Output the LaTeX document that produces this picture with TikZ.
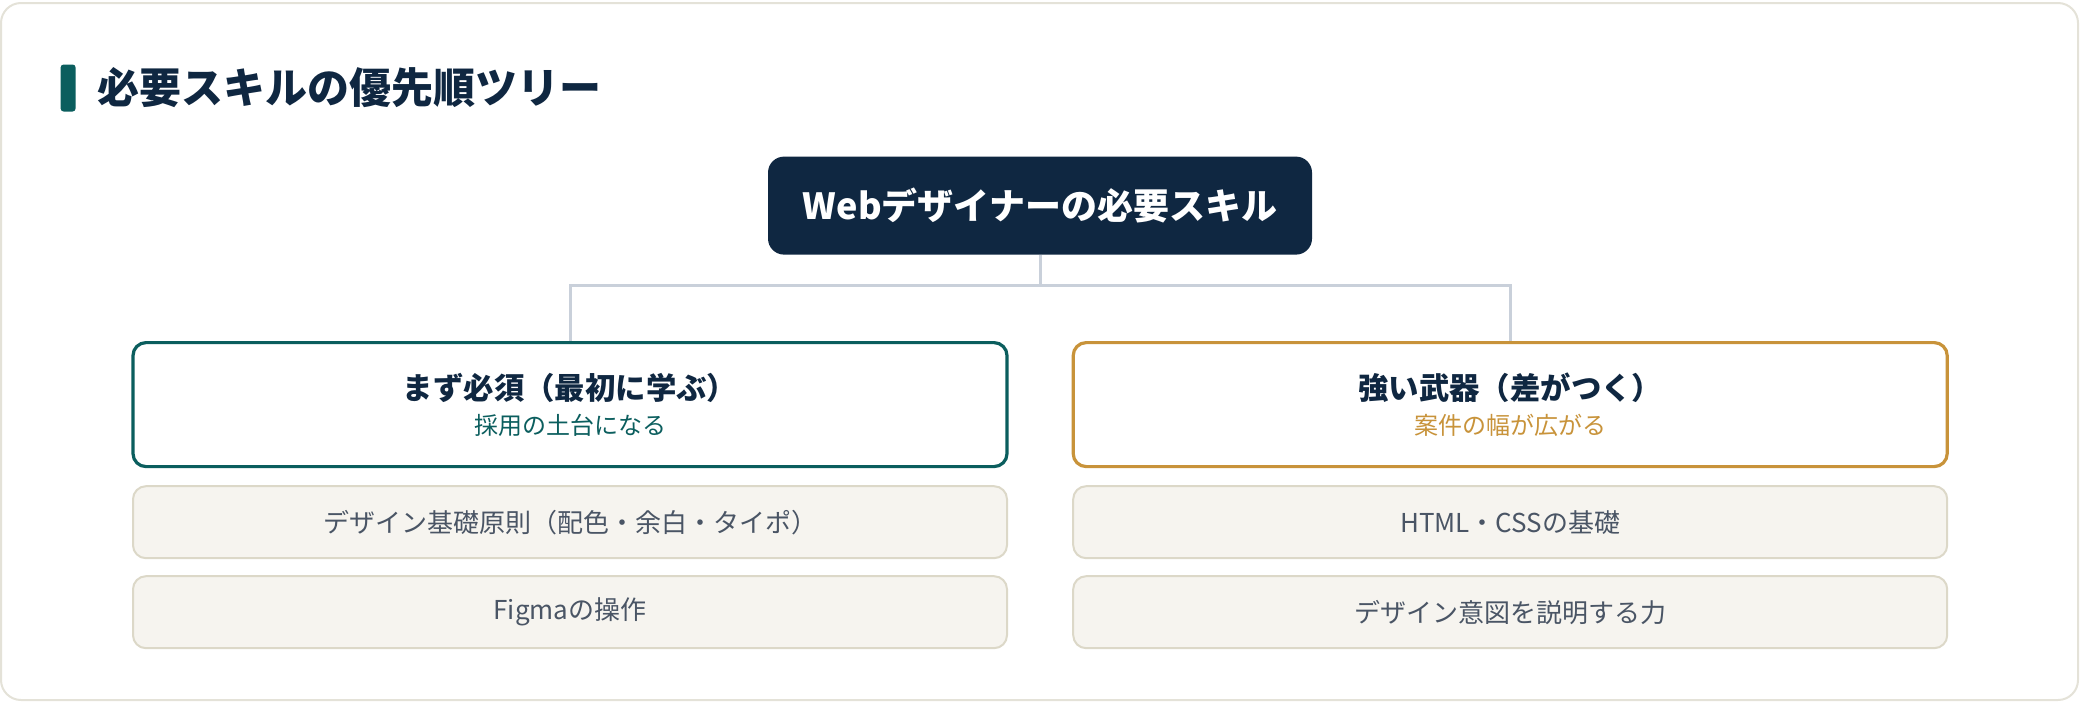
\documentclass[tikz,border=0pt]{standalone}
\usepackage{fontspec}
\setmainfont{Noto Sans CJK JP}
\usepackage{xcolor}
\usepackage{tikz}
\usetikzlibrary{positioning}
\definecolor{SkillNavy}{HTML}{0F2741}
\definecolor{SkillTeal}{HTML}{0B5E5E}
\definecolor{SkillGold}{HTML}{C8933A}
\definecolor{SkillLine}{HTML}{C9D0DA}
\definecolor{SkillItem}{HTML}{F6F4EF}
\definecolor{SkillItemLine}{HTML}{DCD8C8}
\definecolor{SkillText}{HTML}{4A5565}
\definecolor{SkillCard}{HTML}{E4E2D8}
\tikzstyle{connector} = [line width=1.5pt, draw=SkillLine]
\tikzstyle{rootbox} = [rectangle, rounded corners=8pt, minimum width=272pt, minimum height=49pt, inner sep=0pt, text centered, fill=SkillNavy, text=white, font=\fontsize{18pt}{21pt}\selectfont\bfseries]
\tikzstyle{groupbox} = [rectangle, rounded corners=6.5pt, minimum width=437pt, minimum height=62pt, inner sep=0pt, align=center, fill=white, line width=1.6pt]
\tikzstyle{itembox} = [rectangle, rounded corners=6.5pt, minimum width=437pt, minimum height=36pt, inner sep=0pt, text centered, fill=SkillItem, draw=SkillItemLine, line width=1pt, text=SkillText, font=\fontsize{13pt}{15pt}\selectfont]
\newcommand{\grouptitle}[1]{{\fontsize{15.2pt}{18pt}\selectfont\bfseries\color{SkillNavy}#1}}
\newcommand{\groupsub}[2]{{\fontsize{12pt}{14pt}\selectfont\color{#1}#2}}

\begin{document}
\begin{tikzpicture}[x=0.5pt, y=-0.5pt]
      \useasboundingbox (0,0) rectangle (2080,702);
      \draw [SkillCard, line width=1pt, fill=white, rounded corners=10pt] (1,3) rectangle (2078,700);
      % heading
      \node (heading) [anchor=west, inner sep=0pt, text=SkillNavy, font=\fontsize{21pt}{25pt}\selectfont\bfseries] at (97,88) {必要スキルの優先順ツリー};
      \node (headbar) [rectangle, fill=SkillTeal, rounded corners=1.5pt, inner sep=0pt, minimum width=7.5pt, minimum height=23.5pt, left=10.5pt of heading] {};
      % tree
      \node (root) [rootbox] at (1040,205.6) {Webデザイナーの必要スキル};
      \node (must) [groupbox, draw=SkillTeal, below=43pt of root, xshift=-235pt] {\grouptitle{まず必須（最初に学ぶ）}\\[5.5pt]\groupsub{SkillTeal}{採用の土台になる}};
      \node (weapon) [groupbox, draw=SkillGold, right=31.5pt of must] {\grouptitle{強い武器（差がつく）}\\[5.5pt]\groupsub{SkillGold}{案件の幅が広がる}};
      \coordinate (split) at (1040,285);
      \draw [connector] (root.south) -- (split);
      \draw [connector] (must.north) |- (split) -| (weapon.north);
      \node (basics) [itembox, below=8.5pt of must] {デザイン基礎原則（配色・余白・タイポ）};
      \node (figma) [itembox, below=8pt of basics] {Figmaの操作};
      \node (html) [itembox, below=8.5pt of weapon] {HTML・CSSの基礎};
      \node (explain) [itembox, below=8pt of html] {デザイン意図を説明する力};
\end{tikzpicture}
\end{document}
